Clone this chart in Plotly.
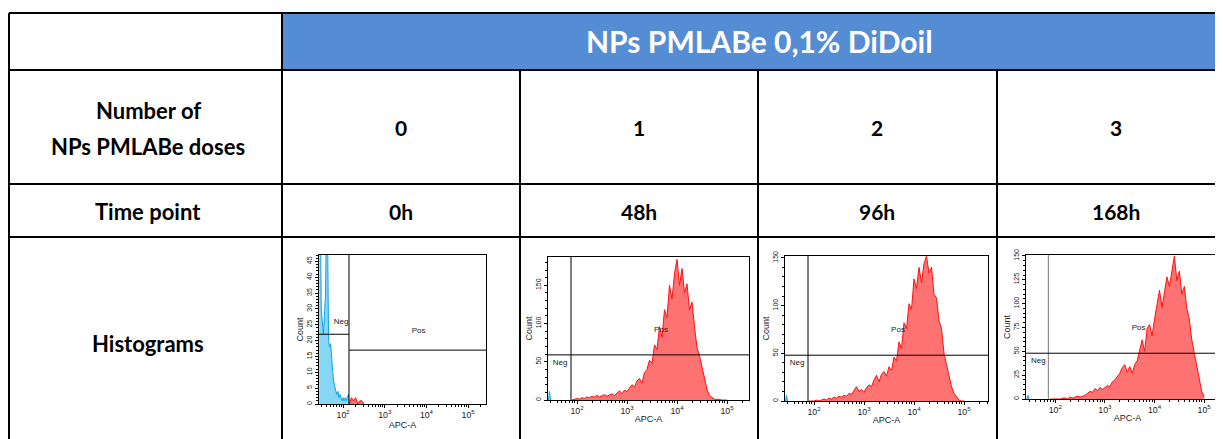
import numpy as np
import plotly.graph_objects as go

W, H = 1223, 439
OFF = 8  # page body margin of the exported html

header = "NPs PMLABe 0,1% DiDoil"
row_labels = ["Number of", "NPs PMLABe doses", "Time point", "Histograms"]
doses = ["0", "1", "2", "3"]
time_points = ["0h", "48h", "96h", "168h"]

# log10(APC-A) bin centres for the red histograms
bins_red = np.round(np.arange(1.90, 5.001, 0.05), 2)
count_48h = [0, 1, 2, 1, 3, 2, 4, 3, 5, 4, 6, 4, 5, 7, 5, 6, 8, 6, 9, 12,
             8, 13, 11, 16, 20, 17, 25, 28, 22, 36, 40, 52, 48, 72, 66, 96, 82, 118, 108, 150,
             132, 165, 184, 150, 172, 140, 152, 118, 128, 96, 68, 58, 42, 26, 14, 6, 3, 1, 1, 0,
             0, 0, 0]
count_96h = [0, 0, 0, 1, 0, 1, 2, 1, 3, 2, 4, 3, 5, 4, 6, 5, 8, 7, 11, 15,
             10, 12, 9, 14, 17, 15, 22, 27, 20, 28, 31, 26, 36, 32, 46, 42, 62, 55, 82, 76,
             102, 96, 128, 118, 140, 124, 144, 152, 134, 140, 112, 108, 84, 76, 50, 38, 26, 15, 8, 4,
             1, 0, 0]
count_168h = [0, 0, 0, 0, 0, 1, 1, 0, 2, 1, 2, 3, 2, 3, 4, 6, 8, 7, 11, 9,
              12, 10, 12, 14, 13, 18, 20, 24, 27, 33, 36, 28, 34, 27, 36, 40, 52, 62, 50, 74,
              78, 66, 84, 100, 114, 96, 112, 128, 118, 136, 150, 124, 134, 110, 118, 95, 84, 62, 48, 35,
              18, 8, 2]

# untreated control (blue, negative population)
bins_blue = np.round(np.arange(1.425, 2.151, 0.025), 3)
count_0h = [50, 60, 30, 26, 22, 28, 34, 60, 55, 20, 18, 19, 12, 10, 7, 5, 4, 3, 4,
            2, 3, 2, 1, 2, 1, 2, 1, 2, 3, 0]
bins_0h_red = [2.15, 2.2, 2.25, 2.3, 2.35, 2.4, 2.45, 2.5]
count_0h_red = [0, 2, 1, 2, 0, 1, 1, 0]
bins_small_blue = [1.43, 1.45, 1.47]
small_blue = {"2": [0, 11, 0], "3": [0, 6, 0], "4": [0, 4, 0]}

# gates: vertical marker (log10) and horizontal Neg/Pos levels
gate_x = {"": 2.14, "2": 1.88, "3": 1.88, "4": 1.86}
gate_neg = {"": 22, "2": 59, "3": 48, "4": 48}
gate_pos = {"": 17, "2": 59, "3": 48, "4": 48}
neg_lbl = {"": (1.95, 26), "2": (1.66, 48), "3": (1.66, 40), "4": (1.66, 40)}
pos_lbl = {"": (3.81, 23), "2": (3.68, 91), "3": (3.68, 74), "4": (3.68, 74)}

RED_LINE, RED_FILL = "#ff1010", "#ff7272"
BLUE_LINE, BLUE_FILL = "#12a4e6", "#86d6f6"


def fx(x):
    return (x - OFF) / W


def fy(y):
    return 1 - (y - OFF) / H


def hist(logs, counts, ax, line, fill):
    return go.Scatter(x=10 ** np.array(logs, dtype=float), y=counts, mode="lines",
                      line=dict(color=line, width=1), fill="tozeroy", fillcolor=fill,
                      xaxis="x" + ax, yaxis="y" + ax, hoverinfo="skip", showlegend=False)


fig = go.Figure()

fig.add_trace(hist(bins_blue, count_0h, "", BLUE_LINE, BLUE_FILL))
fig.add_trace(hist(bins_0h_red, count_0h_red, "", RED_LINE, RED_FILL))
for ax, counts in zip(["2", "3", "4"], [count_48h, count_96h, count_168h]):
    fig.add_trace(hist(bins_red, counts, ax, RED_LINE, RED_FILL))
    fig.add_trace(hist(bins_small_blue, small_blue[ax], ax, BLUE_LINE, BLUE_FILL))

# panel layout: axis suffix, x px, y px, log x range, y range, dtick, minor dtick
panels = [
    ("", (319, 486), (255, 404), (1.42, 5.43), (0, 47), 5, 1),
    ("2", (548, 749), (257, 400), (1.42, 5.44), (0, 187), 50, 10),
    ("3", (785, 988), (256, 401), (1.42, 5.48), (0, 152), 50, 10),
    ("4", (1026, 1229), (255, 399), (1.41, 5.5), (0, 151), 25, 5),
]

tick_font = dict(family="Liberation Sans", size=7, color="#222")
title_font = dict(family="Liberation Sans", size=9, color="#222")

for ax, (x0, x1), (y0, y1), xr, yr, dt, mdt in panels:
    g = 10 ** gate_x[ax]
    left, right = 10 ** (xr[0] - 0.1), 10 ** (xr[1] + 0.1)
    vcol = "#777" if ax == "4" else "black"
    fig.add_trace(go.Scatter(x=[g, g], y=[0, yr[1] * 1.1], mode="lines",
                             line=dict(color=vcol, width=1), xaxis="x" + ax, yaxis="y" + ax,
                             hoverinfo="skip", showlegend=False))
    fig.add_trace(go.Scatter(x=[left, g], y=[gate_neg[ax]] * 2, mode="lines",
                             line=dict(color="black", width=1), xaxis="x" + ax, yaxis="y" + ax,
                             hoverinfo="skip", showlegend=False))
    fig.add_trace(go.Scatter(x=[g, right], y=[gate_pos[ax]] * 2, mode="lines",
                             line=dict(color="black", width=1), xaxis="x" + ax, yaxis="y" + ax,
                             hoverinfo="skip", showlegend=False))
    fig.add_trace(go.Scatter(x=[10 ** neg_lbl[ax][0], 10 ** pos_lbl[ax][0]],
                             y=[neg_lbl[ax][1], pos_lbl[ax][1]], mode="text",
                             text=["Neg", "Pos"], textfont=dict(family="Liberation Sans", size=8, color="#222"),
                             xaxis="x" + ax, yaxis="y" + ax, hoverinfo="skip", showlegend=False))

    xa = dict(domain=[fx(x0), fx(x1)], type="log", range=list(xr), dtick=1,
              exponentformat="power", showgrid=False, zeroline=False, automargin=False,
              showline=True, linecolor="black", linewidth=1, mirror=True,
              ticks="outside", ticklen=3, tickcolor="black", tickfont=tick_font,
              minor=dict(dtick="D1", ticks="outside", ticklen=2, tickcolor="black"),
              title=dict(text="APC-A", font=title_font, standoff=0),
              anchor="y" + ax, fixedrange=True)
    ya = dict(domain=[fy(y1), fy(y0)], range=list(yr), dtick=dt, showgrid=False,
              zeroline=False, showline=True, linecolor="black", linewidth=1, automargin=False,
              mirror=True, ticks="outside", ticklen=3, tickcolor="black",
              tickfont=tick_font, tickangle=-90,
              minor=dict(dtick=mdt, ticks="outside", ticklen=2, tickcolor="black"),
              title=dict(text="Count", font=title_font, standoff=1),
              anchor="x" + ax, fixedrange=True)
    fig.layout["xaxis" + ax] = xa
    fig.layout["yaxis" + ax] = ya

# table frame
shapes = [dict(type="rect", xref="paper", yref="paper", x0=fx(282), x1=1.0,
               y0=fy(70), y1=fy(13), fillcolor="#548dd4", line=dict(width=0), layer="below")]
lines_h = [(13, 9, 1240), (70, 9, 1240), (184, 9, 1240), (237, 9, 1240)]
lines_v = [(9, 13, 450), (282, 13, 450), (520, 70, 450), (758, 70, 450), (997, 70, 450)]
for y, xa0, xa1 in lines_h:
    shapes.append(dict(type="line", xref="paper", yref="paper", x0=fx(xa0), x1=min(fx(xa1), 1.0),
                       y0=fy(y), y1=fy(y), line=dict(color="black", width=2)))
for x, ya0, ya1 in lines_v:
    shapes.append(dict(type="line", xref="paper", yref="paper", x0=fx(x), x1=fx(x),
                       y0=fy(ya0), y1=max(fy(ya1), 0.0), line=dict(color="black", width=2)))

label_font = dict(family="Lato", size=22, color="black", weight="bold")
value_font = dict(family="Lato", size=21, color="black", weight="bold")
annotations = [dict(text=header, x=fx(759), y=fy(41), xref="paper", yref="paper",
                    showarrow=False, xanchor="center", yanchor="middle",
                    font=dict(family="Lato", size=30, color="white", weight="bold"))]
label_pos = [(148, 110), (148, 146), (148, 211), (148, 343)]
for txt, (x, y) in zip(row_labels, label_pos):
    annotations.append(dict(text=txt, x=fx(x), y=fy(y), xref="paper", yref="paper",
                            showarrow=False, xanchor="center", yanchor="middle", font=label_font))
col_x = [401, 639, 877, 1116]
for x, d, t in zip(col_x, doses, time_points):
    annotations.append(dict(text=d, x=fx(x), y=fy(128), xref="paper", yref="paper",
                            showarrow=False, xanchor="center", yanchor="middle", font=value_font))
    annotations.append(dict(text=t, x=fx(x), y=fy(211), xref="paper", yref="paper",
                            showarrow=False, xanchor="center", yanchor="middle", font=value_font))

fig.update_layout(width=W, height=H, autosize=False, margin=dict(l=0, r=0, t=0, b=0),
                  paper_bgcolor="white", plot_bgcolor="white", showlegend=False,
                  shapes=shapes, annotations=annotations)

fig.write_html("out.html")
